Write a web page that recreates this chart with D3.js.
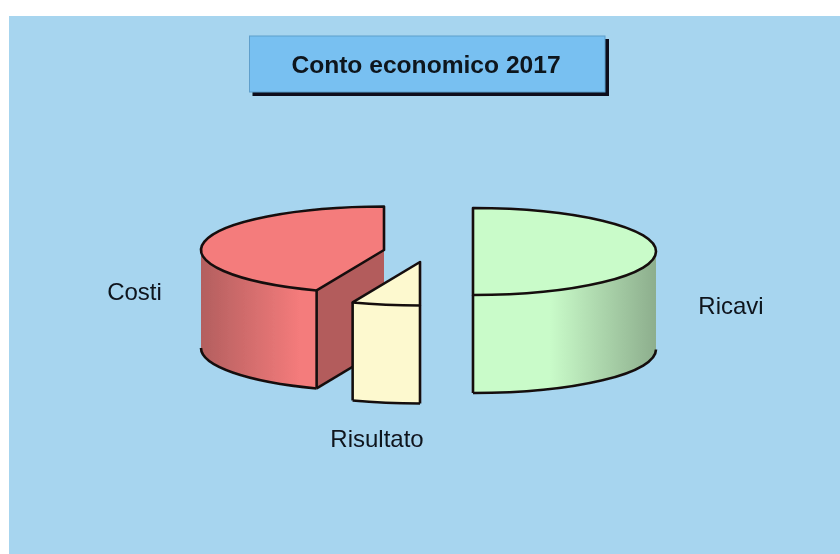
<!DOCTYPE html>
<html><head><meta charset="utf-8">
<script src="https://cdn.jsdelivr.net/npm/d3@7"></script>
<style>html,body{margin:0;padding:0;background:#fff;overflow:hidden}svg{display:block}text{font-family:"Liberation Sans",Arial,sans-serif;fill:#10131c}</style>
</head><body><div id="c"></div>
<script>
const titleText = "Conto economico 2017";
const categories = ["Ricavi", "Risultato", "Costi"];
const values = [50, 6, 44];
const topColors = ["#c9fbc9", "#fdf9cf", "#f47b7b"];
const rimDark = ["#8dae8d", "#fdf9cf", "#b35f5f"];

const W = 840, H = 554, RX = 183, RY = 43.5, DEPTH = 98;
const centers = [[473, 251.5], [420, 262], [384, 250]];
const labelPos = [[731, 314], [377, 447], [134.5, 300]];

const svg = d3.select("#c").append("svg").attr("width", W).attr("height", H);
const defs = svg.append("defs");
defs.append("filter").attr("id", "soft").attr("x", "-5%").attr("y", "-5%").attr("width", "110%").attr("height", "110%")
  .append("feGaussianBlur").attr("stdDeviation", 0.45);
svg.append("rect").attr("x", 9).attr("y", 16).attr("width", W - 9).attr("height", H - 16).attr("fill", "#a7d5ef");
const root = svg.append("g").attr("filter", "url(#soft)");

// Title box
root.append("rect").attr("x", 252.5).attr("y", 39).attr("width", 356.5).attr("height", 57).attr("fill", "#07101c");
root.append("rect").attr("x", 249.5).attr("y", 36).attr("width", 355.5).attr("height", 56).attr("fill", "#78c0f1").attr("stroke", "#5f9fcc").attr("stroke-width", 1);
root.append("text").attr("x", 426).attr("y", 73).attr("text-anchor", "middle").attr("font-size", 24.6).attr("font-weight", "bold").text(titleText);

const pie = d3.pie().sort(null).startAngle(0).endAngle(2 * Math.PI)(values);
const arc = d3.arc().innerRadius(0).outerRadius(RX);
const STROKE = "#14100f", SW = 2.6;
const px = (c, a) => c[0] + RX * Math.sin(a);
const py = (c, a) => c[1] - RY * Math.cos(a);

// draw order back to front
[2, 1, 0].forEach(i => {
  const p = pie[i], c = centers[i], g = root.append("g");
  const a0 = Math.max(p.startAngle, Math.PI / 2), a1 = Math.min(p.endAngle, 3 * Math.PI / 2);
  const id = "rim" + i;
  const grad = defs.append("linearGradient").attr("id", id).attr("gradientUnits", "userSpaceOnUse");
  grad.attr("x1", px(c, a1)).attr("x2", px(c, a0)).attr("y1", 0).attr("y2", 0);
  if (i === 0) {
    grad.append("stop").attr("offset", 0.42).attr("stop-color", topColors[i]);
    grad.append("stop").attr("offset", 1).attr("stop-color", rimDark[i]);
  } else {
    grad.append("stop").attr("offset", 0).attr("stop-color", rimDark[i]);
    grad.append("stop").attr("offset", 0.85).attr("stop-color", topColors[i]);
  }

  // radial face seen from the front (Costi cut side)
  if (i === 2) {
    const ax = px(c, p.startAngle), ay = py(c, p.startAngle);
    const face = d3.path();
    face.moveTo(c[0], c[1]); face.lineTo(ax, ay); face.lineTo(ax, ay + DEPTH); face.lineTo(c[0], c[1] + DEPTH); face.closePath();
    g.append("path").attr("d", face.toString()).attr("fill", "#b35c5c");
    const e = d3.path();
    e.moveTo(ax, ay + DEPTH); e.lineTo(c[0], c[1] + DEPTH);
    g.append("path").attr("d", e.toString()).attr("fill", "none").attr("stroke", STROKE).attr("stroke-width", SW);
  }

  // rim
  const x0 = px(c, a0), y0 = py(c, a0), x1 = px(c, a1), y1 = py(c, a1);
  const ell = `A${RX},${RY} 0 0 1 `;
  g.append("path").attr("d", `M${x0},${y0} ${ell}${x1},${y1} L${x1},${y1 + DEPTH} A${RX},${RY} 0 0 0 ${x0},${y0 + DEPTH} Z`).attr("fill", `url(#${id})`);
  g.append("path").attr("d", `M${x0},${y0 + DEPTH} ${ell}${x1},${y1 + DEPTH}`).attr("fill", "none").attr("stroke", STROKE).attr("stroke-width", SW);

  // vertical edges
  const verts = i === 0 ? [[c[0], c[1] + RY, c[1] + RY + DEPTH]] : i === 1 ? [[x0, y0, y0 + DEPTH], [x1, y1, y1 + DEPTH]] : [[x0, y0, y0 + DEPTH]];
  verts.forEach(v => g.append("line").attr("x1", v[0]).attr("x2", v[0]).attr("y1", v[1]).attr("y2", v[2]).attr("stroke", STROKE).attr("stroke-width", SW));

  // top face: a d3 arc squashed into an ellipse
  g.append("path").attr("d", arc(p)).attr("transform", `translate(${c[0]},${c[1]}) scale(1,${RY / RX})`)
    .attr("fill", topColors[i]).attr("stroke", STROKE).attr("stroke-width", SW).attr("stroke-linejoin", "round").attr("vector-effect", "non-scaling-stroke");
});

categories.forEach((t, i) => {
  root.append("text").attr("x", labelPos[i][0]).attr("y", labelPos[i][1]).attr("text-anchor", "middle").attr("font-size", 24).text(t);
});
</script></body></html>
